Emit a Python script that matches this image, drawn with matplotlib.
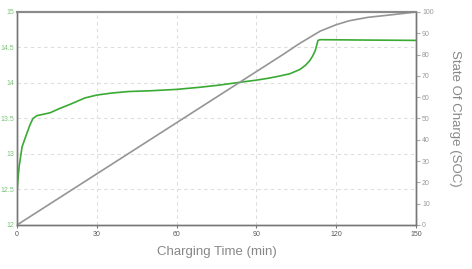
import matplotlib.pyplot as plt
import numpy as np

# voltage curve (left axis)
v_time = [0, 0.3, 0.8, 1.9, 3.8, 5.0, 6.0, 7.5, 12.4, 16, 20, 25.6, 30, 36, 42, 50, 60,
          68.8, 76, 83.8, 90, 95, 99, 102.6, 106.4, 108.5, 110, 111.2, 112.2, 113.2, 114, 130, 150]
voltage = [12.45, 12.62, 12.82, 13.1, 13.3, 13.42, 13.5, 13.54, 13.58, 13.64, 13.7, 13.79, 13.83,
           13.86, 13.88, 13.89, 13.91, 13.94, 13.97, 14.01, 14.04, 14.07, 14.1, 14.13, 14.19,
           14.25, 14.31, 14.38, 14.46, 14.6, 14.61, 14.605, 14.6]

# state of charge (right axis)
soc_time = [0, 100, 106, 110, 114, 120, 125, 132, 141, 150]
soc = [0, 80, 85, 88, 91, 94, 95.9, 97.5, 98.7, 100]

x_ticks = [0, 30, 60, 90, 120, 150]
v_ticks = [12, 12.5, 13, 13.5, 14, 14.5, 15]
soc_ticks = list(range(0, 101, 10))

plt.rcParams['font.family'] = ['Liberation Sans', 'DejaVu Sans']

fig = plt.figure(figsize=(4.72, 2.69), dpi=100)
ax = fig.add_axes([0.036, 0.1636, 0.845, 0.7918])
ax2 = ax.twinx()

axis_col = '#777777'
grid_col = '#dddddd'

ax.plot(v_time, voltage, color='#3aaa35', lw=1.2, zorder=3)
ax2.plot(soc_time, soc, color='#959595', lw=1.2)

ax.set_xlim(0, 150)
ax.set_ylim(12, 15)
ax2.set_ylim(0, 100)
ax.set_xticks(x_ticks)
ax.set_yticks(v_ticks)
ax.set_yticklabels([f'{v:g}' for v in v_ticks])
ax2.set_yticks(soc_ticks)

ax.grid(True, color=grid_col, ls=(0, (3, 3)), lw=0.8)

for a in (ax, ax2):
    for s in a.spines.values():
        s.set_color(axis_col)
        s.set_linewidth(1.0)
    a.spines['top'].set_linewidth(1.5)
    a.spines['top'].set_color('#8a8a8a')

ax.tick_params(axis='x', labelsize=5, colors=axis_col, labelcolor='#555555', length=2, pad=2)
ax.tick_params(axis='y', labelsize=5, colors=axis_col, labelcolor='#7cc47a', length=0, pad=2)
ax2.tick_params(axis='y', labelsize=5, colors='#aaaaaa', labelcolor='#999999', length=3, pad=1.5)

ax.set_xlabel('Charging Time (min)', fontsize=9.5, color='#888888', labelpad=6)
ax2.set_ylabel('State Of Charge (SOC)', fontsize=9.5, color='#888888', rotation=270, labelpad=20)

fig.savefig('out.png', dpi=100)
